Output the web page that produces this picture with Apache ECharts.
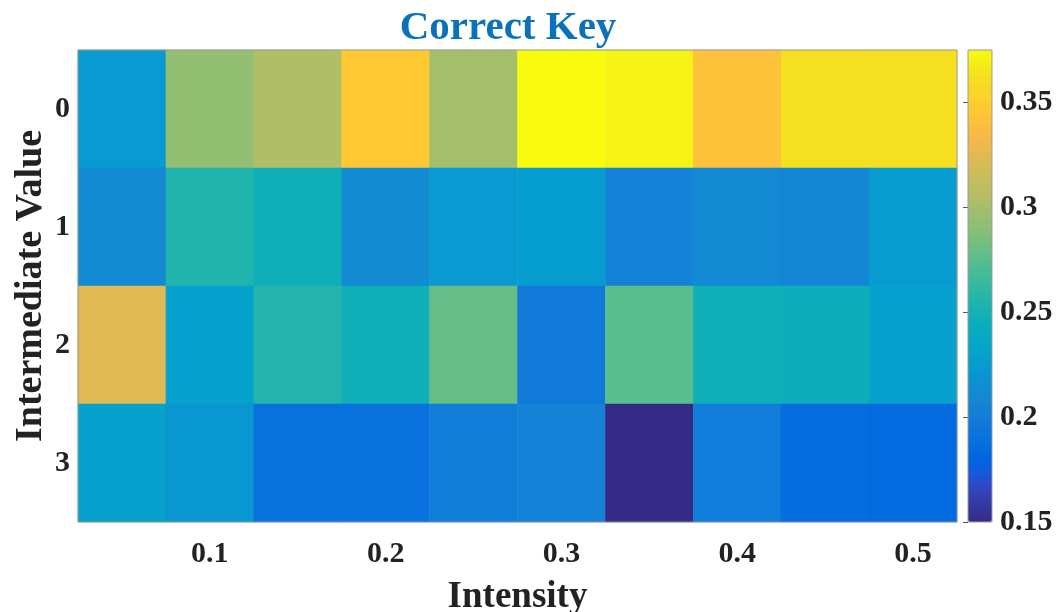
<!DOCTYPE html>
<html>
<head>
<meta charset="utf-8">
<title>Correct Key</title>
<script src="https://cdn.jsdelivr.net/npm/echarts@6/dist/echarts.min.js"></script>
<style>
  html, body { margin: 0; padding: 0; background: #fff; }
  #chart { width: 1056px; height: 612px; }
</style>
</head>
<body>
<div id="chart"></div>
<script>
// intensity categories (x) and intermediate values (y)
var intensity = ['0.05', '0.1', '0.15', '0.2', '0.25', '0.3', '0.35', '0.4', '0.45', '0.5'];
var intermediate = ['0', '1', '2', '3'];

// cell values, one array per row
var row0 = [0.223, 0.293, 0.304, 0.346, 0.300, 0.3748, 0.371, 0.341, 0.362, 0.361];
var row1 = [0.210, 0.255, 0.246, 0.212, 0.223, 0.227, 0.204, 0.211, 0.207, 0.224];
var row2 = [0.325, 0.229, 0.256, 0.246, 0.279, 0.196, 0.275, 0.246, 0.245, 0.229];
var row3 = [0.229, 0.221, 0.189, 0.189, 0.200, 0.204, 0.150, 0.199, 0.186, 0.184];

var colorMin = 0.15;
var colorMax = 0.3748;

// parula colormap (MATLAB)
var parula = [
  [0.2081,0.1663,0.5292],[0.2116,0.1898,0.5777],[0.2123,0.2138,0.6270],[0.2081,0.2386,0.6771],
  [0.1959,0.2645,0.7279],[0.1707,0.2919,0.7792],[0.1253,0.3242,0.8303],[0.0591,0.3598,0.8683],
  [0.0117,0.3875,0.8820],[0.0060,0.4086,0.8828],[0.0165,0.4266,0.8786],[0.0329,0.4430,0.8720],
  [0.0498,0.4586,0.8641],[0.0629,0.4737,0.8554],[0.0723,0.4887,0.8467],[0.0779,0.5040,0.8384],
  [0.0793,0.5200,0.8312],[0.0749,0.5375,0.8263],[0.0641,0.5570,0.8240],[0.0488,0.5772,0.8228],
  [0.0343,0.5966,0.8199],[0.0265,0.6137,0.8135],[0.0239,0.6287,0.8038],[0.0231,0.6418,0.7913],
  [0.0228,0.6535,0.7768],[0.0267,0.6642,0.7607],[0.0384,0.6743,0.7436],[0.0590,0.6838,0.7254],
  [0.0843,0.6928,0.7062],[0.1133,0.7015,0.6859],[0.1453,0.7098,0.6646],[0.1801,0.7177,0.6424],
  [0.2178,0.7250,0.6193],[0.2586,0.7317,0.5954],[0.3022,0.7376,0.5712],[0.3482,0.7424,0.5473],
  [0.3953,0.7459,0.5244],[0.4420,0.7481,0.5033],[0.4871,0.7491,0.4840],[0.5300,0.7491,0.4661],
  [0.5709,0.7485,0.4494],[0.6099,0.7473,0.4337],[0.6473,0.7456,0.4188],[0.6834,0.7435,0.4044],
  [0.7184,0.7411,0.3905],[0.7525,0.7384,0.3768],[0.7858,0.7356,0.3633],[0.8185,0.7327,0.3498],
  [0.8507,0.7299,0.3360],[0.8824,0.7274,0.3217],[0.9139,0.7258,0.3063],[0.9450,0.7261,0.2886],
  [0.9739,0.7314,0.2666],[0.9938,0.7455,0.2403],[0.9990,0.7653,0.2164],[0.9955,0.7861,0.1967],
  [0.9880,0.8066,0.1794],[0.9789,0.8271,0.1633],[0.9697,0.8481,0.1475],[0.9626,0.8705,0.1309],
  [0.9589,0.8949,0.1132],[0.9598,0.9218,0.0948],[0.9661,0.9514,0.0755],[0.9763,0.9831,0.0538]
].map(function (c) {
  return 'rgb(' + Math.round(c[0] * 255) + ',' + Math.round(c[1] * 255) + ',' + Math.round(c[2] * 255) + ')';
});

var rows = [row0, row1, row2, row3];
var cells = [];
for (var r = 0; r < rows.length; r++) {
  for (var c = 0; c < rows[r].length; c++) {
    cells.push([c, r, rows[r][c]]);
  }
}

var serif = '"Liberation Serif", "Times New Roman", serif';
var tickColor = '#555';

// show only every second intensity label (0.1, 0.2, ...)
function everyOther(i) { return i % 2 === 1; }

var chart = echarts.init(document.getElementById('chart'));
var option = {
  backgroundColor: '#fff',
  title: {
    text: 'Correct Key',
    left: 503,
    top: 3,
    textAlign: 'center',
    textStyle: { fontFamily: serif, fontWeight: 'bold', fontSize: 41, color: '#0A72BA' }
  },
  grid: [
    { left: 78, top: 50, width: 879, height: 472, outerBoundsMode: 'none', show: true, borderColor: '#999', borderWidth: 1, backgroundColor: 'transparent', z: 10 },
    { left: 968, top: 50, width: 24, height: 472, outerBoundsMode: 'none', show: true, borderColor: '#999', borderWidth: 1, backgroundColor: 'transparent', z: 10 }
  ],
  xAxis: [
    {
      type: 'category',
      gridIndex: 0,
      data: intensity,
      position: 'bottom',
      name: 'Intensity',
      nameLocation: 'middle',
      nameGap: 57,
      nameMoveOverlap: false,
      nameTextStyle: { fontFamily: serif, fontWeight: 'bold', fontSize: 37, color: '#222' },
      axisLine: { show: false },
      axisTick: { show: true, inside: true, length: 6, alignWithLabel: true, interval: everyOther, lineStyle: { color: tickColor } },
      axisLabel: { interval: everyOther, margin: 17, fontFamily: serif, fontWeight: 'bold', fontSize: 30, color: '#222' },
      splitLine: { show: false }
    },
    {
      type: 'category',
      gridIndex: 0,
      data: intensity,
      position: 'top',
      axisLine: { show: false },
      axisTick: { show: true, inside: true, length: 6, alignWithLabel: true, interval: everyOther, lineStyle: { color: tickColor } },
      axisLabel: { show: false },
      splitLine: { show: false }
    },
    {
      // dummy axis for the colour bar grid
      type: 'value',
      gridIndex: 1,
      show: false,
      min: 0,
      max: 1
    }
  ],
  yAxis: [
    {
      type: 'category',
      gridIndex: 0,
      data: intermediate,
      inverse: true,
      position: 'left',
      name: 'Intermediate Value',
      nameLocation: 'middle',
      nameGap: 28,
      nameMoveOverlap: false,
      nameTextStyle: { fontFamily: serif, fontWeight: 'bold', fontSize: 38, color: '#222' },
      axisLine: { show: false },
      axisTick: { show: true, inside: true, length: 6, alignWithLabel: true, lineStyle: { color: tickColor } },
      axisLabel: { margin: 8, fontFamily: serif, fontWeight: 'bold', fontSize: 30, color: '#222' },
      splitLine: { show: false }
    },
    {
      type: 'category',
      gridIndex: 0,
      data: intermediate,
      inverse: true,
      position: 'right',
      axisLine: { show: false },
      axisTick: { show: true, inside: true, length: 6, alignWithLabel: true, lineStyle: { color: tickColor } },
      axisLabel: { show: false },
      splitLine: { show: false }
    },
    {
      // colour bar scale
      type: 'value',
      gridIndex: 1,
      position: 'right',
      min: colorMin,
      max: colorMax,
      interval: 0.05,
      axisLine: { show: false },
      axisTick: { show: true, inside: true, length: 5, lineStyle: { color: tickColor } },
      axisLabel: {
        margin: 8,
        fontFamily: serif, fontWeight: 'bold', fontSize: 30, color: '#222',
        formatter: function (v) { return +v.toFixed(2) + ''; },
        showMaxLabel: false
      },
      splitLine: { show: false }
    }
  ],
  visualMap: {
    type: 'continuous',
    seriesIndex: 0,
    min: colorMin,
    max: colorMax,
    calculable: false,
    orient: 'vertical',
    left: 968,
    top: 50,
    itemWidth: 24,
    itemHeight: 472,
    padding: 0,
    textStyle: { color: 'rgba(0,0,0,0)' },
    inRange: { color: parula }
  },
  series: [
    {
      type: 'heatmap',
      xAxisIndex: 0,
      yAxisIndex: 0,
      data: cells,
      itemStyle: { borderWidth: 0 },
      emphasis: { disabled: true }
    }
  ]
};
chart.setOption(option);
</script>
</body>
</html>
